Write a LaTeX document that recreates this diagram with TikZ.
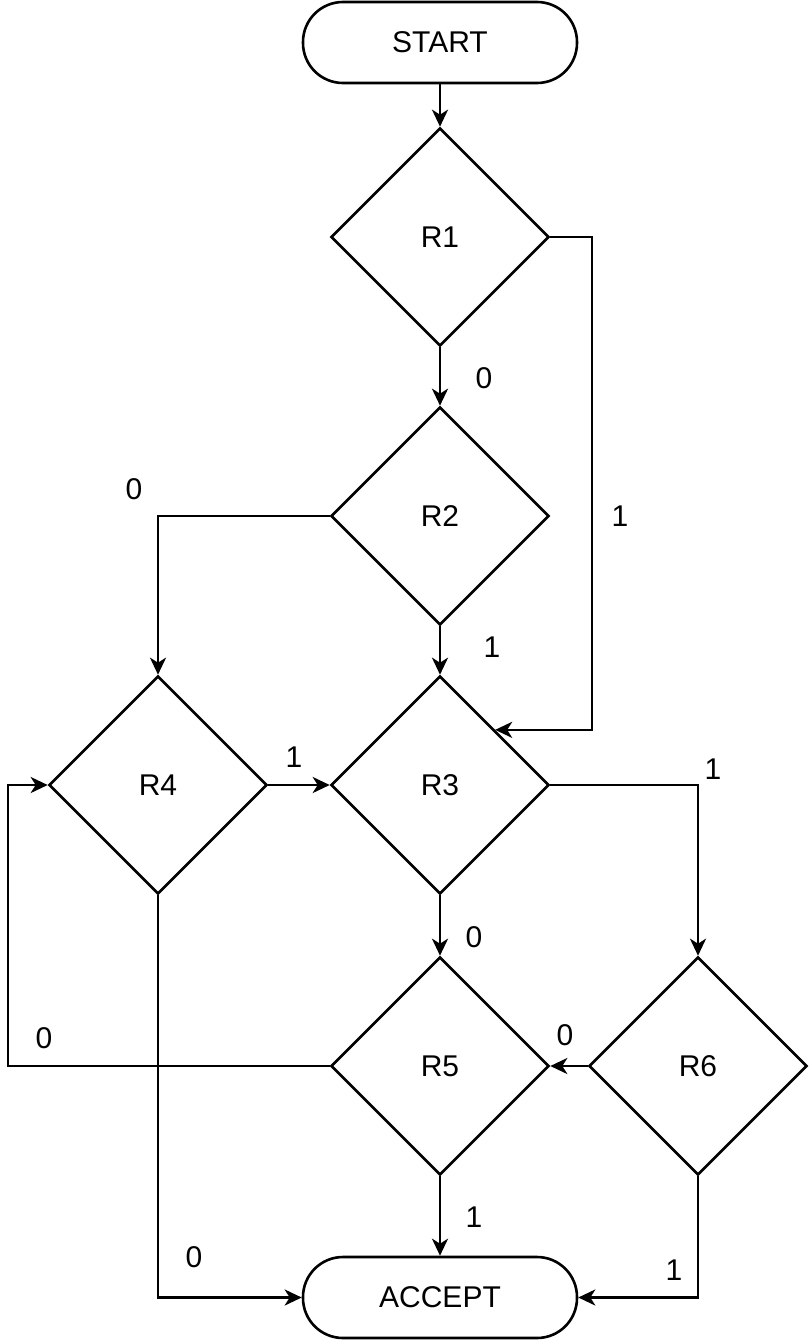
\documentclass[tikz,border=0pt]{standalone}
\usepackage{fontspec}
\setmainfont{Liberation Sans}
\usetikzlibrary{shapes.geometric,arrows.meta}
\begin{document}
\begin{tikzpicture}[x=1pt,y=-1pt,
  every node/.style={font=\fontsize{30}{35}\selectfont},
  dec/.style={draw,line width=2.6pt,diamond,aspect=1,minimum width=218pt,minimum height=218pt,inner sep=0pt},
  term/.style={draw,line width=2.6pt,rectangle,rounded corners=40pt,minimum width=274pt,minimum height=81pt,inner sep=0pt},
  arr/.style={draw,line width=2.6pt,-{Stealth[length=17pt,width=16pt,inset=5pt]}},
  lbl/.style={inner sep=0pt}]
\useasboundingbox (0,0) rectangle (809,1341);
\node[term] (start) at (440,42.5) {START};
\node[dec] (R1) at (440,237) {R1};
\node[dec] (R2) at (440,516) {R2};
\node[dec] (R3) at (440,785) {R3};
\node[dec] (R4) at (158,785) {R4};
\node[dec] (R5) at (440,1066) {R5};
\node[dec] (R6) at (698,1066) {R6};
\node[term] (accept) at (440,1297.5) {ACCEPT};
\coordinate (c1) at (592,237);
\coordinate (c2) at (8,1066);

\draw[arr] (start) -- (R1);
\draw[arr] (R1) -- (R2);
\draw[arr] (R1.east) -- (c1) |- (R3.north east);
\draw[arr] (R2.west) -| (R4.north);
\draw[arr] (R2) -- (R3);
\draw[arr] (R4.east) -- (R3.west);
\draw[arr] (R3.east) -| (R6.north);
\draw[arr] (R3) -- (R5);
\draw[arr] (R6.west) -- (R5.east);
\draw[arr] (R5.west) -- (c2) |- (R4.west);
\draw[arr] (R4.south) |- (accept.west);
\draw[arr] (R5) -- (accept);
\draw[arr] (R6.south) |- (accept.east);

\node[lbl] (l1) at (484,378) {0};
\node[lbl] (l2) at (620,516) {1};
\node[lbl] (l3) at (134,489) {0};
\node[lbl] (l4) at (492,647) {1};
\node[lbl] (l5) at (294,757) {1};
\node[lbl] (l6) at (713,769) {1};
\node[lbl] (l7) at (474,937) {0};
\node[lbl] (l8) at (565,1035) {0};
\node[lbl] (l9) at (44,1038) {0};
\node[lbl] (l10) at (194,1257) {0};
\node[lbl] (l11) at (474,1217) {1};
\node[lbl] (l12) at (674,1270) {1};
\end{tikzpicture}
\end{document}
